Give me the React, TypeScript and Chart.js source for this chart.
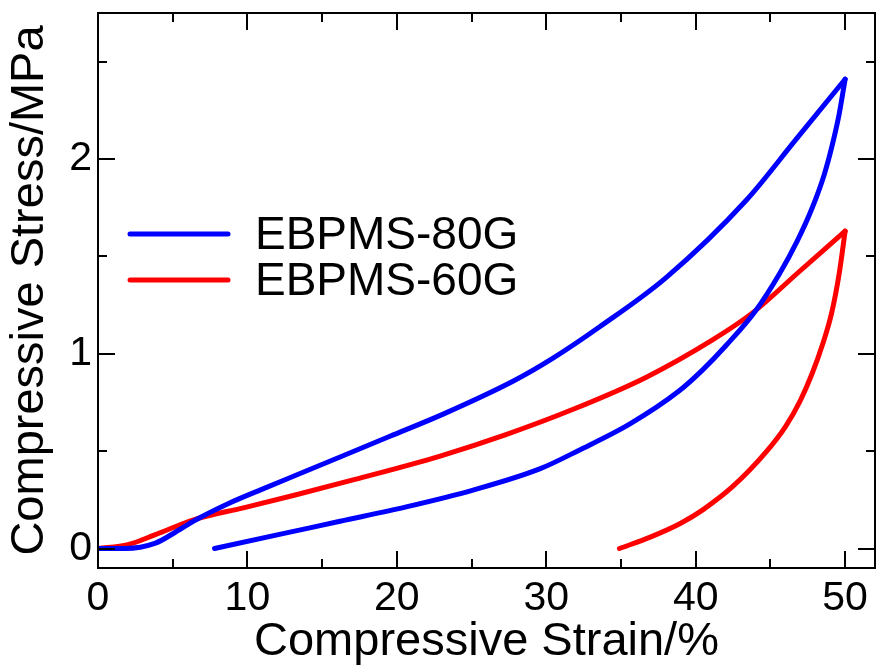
import React, { useEffect, useRef } from "react";
import { Chart, registerables } from "chart.js";

Chart.register(...registerables);

// Compressive strain (%) / stress (MPa)
const blueLoadX = [0, 1.8, 3.8, 5.2, 6.5, 8.7, 11, 13.2, 16.2, 19.5, 23.1, 27.8, 30.4, 33.6, 38.0, 43.4, 46.7, 50];
const blueLoadY = [0, 0, 0.026, 0.085, 0.145, 0.23, 0.305, 0.375, 0.47, 0.575, 0.69, 0.86, 0.975, 1.14, 1.39, 1.79, 2.10, 2.41];
const blueUnloadX = [50, 49.6, 49.1, 48.6, 47.8, 46.8, 45.6, 44.0, 42.0, 40.5, 38.9, 35.6, 32.2, 29.6, 25.1, 20.7, 16.2, 12.3, 7.8];
const blueUnloadY = [2.41, 2.23, 2.06, 1.92, 1.75, 1.58, 1.41, 1.22, 1.04, 0.92, 0.81, 0.64, 0.505, 0.41, 0.30, 0.215, 0.14, 0.075, 0];

const redLoadX = [0, 2.0, 3.8, 6.5, 9.8, 13.2, 17.2, 22.9, 27.3, 31.8, 36.7, 41.1, 43.8, 46.9, 50];
const redLoadY = [0, 0.02, 0.07, 0.15, 0.21, 0.275, 0.355, 0.475, 0.585, 0.715, 0.88, 1.07, 1.21, 1.42, 1.63];
const redUnloadX = [50, 49.6, 49.1, 48.5, 47.8, 47.0, 46.0, 44.7, 42.5, 40.5, 39.0, 37.0, 34.9];
const redUnloadY = [1.63, 1.41, 1.21, 1.05, 0.9, 0.76, 0.625, 0.495, 0.32, 0.2, 0.13, 0.06, 0];

const seriesNames = ["EBPMS-80G", "EBPMS-60G"];
const seriesColors = ["#0000ff", "#ff0000"];

const xMajorTicks = [0, 10, 20, 30, 40, 50];
const xMinorTicks = [5, 15, 25, 35, 45];
const yMajorTicks = [0, 1, 2];
const yMinorTicks = [0.5, 1.5, 2.5];

const toPts = (xs: number[], ys: number[]) => xs.map((x, i) => ({ x, y: ys[i] }));

const FONT = "'Liberation Sans', Arial, Helvetica, sans-serif";

const framePlugin = {
  id: "frameTicks",
  afterDatasetsDraw(chart: any) {
    const { ctx, chartArea, scales } = chart;
    const { left, right, top, bottom } = chartArea;
    const xs = scales.x;
    const ys = scales.y;
    ctx.save();
    ctx.strokeStyle = "#000";
    ctx.lineWidth = 2;
    ctx.lineCap = "butt";
    ctx.beginPath();
    const major = 17;
    const minor = 9;
    const vTick = (v: number, len: number) => {
      const p = Math.round(xs.getPixelForValue(v));
      ctx.moveTo(p, bottom);
      ctx.lineTo(p, bottom - len);
      ctx.moveTo(p, top);
      ctx.lineTo(p, top + len);
    };
    const hTick = (v: number, len: number) => {
      const p = Math.round(ys.getPixelForValue(v));
      ctx.moveTo(left, p);
      ctx.lineTo(left + len, p);
      ctx.moveTo(right, p);
      ctx.lineTo(right - len, p);
    };
    xMajorTicks.forEach((v) => vTick(v, major));
    xMinorTicks.forEach((v) => vTick(v, minor));
    yMajorTicks.forEach((v) => hTick(v, major));
    yMinorTicks.forEach((v) => hTick(v, minor));
    ctx.stroke();
    ctx.strokeRect(left, top, right - left, bottom - top);

    // legend
    const lx0 = 130;
    const lx1 = 228;
    const rows = [234, 280];
    ctx.lineCap = "round";
    ctx.lineWidth = 5;
    ctx.font = `46px ${FONT}`;
    ctx.textBaseline = "middle";
    ctx.textAlign = "left";
    rows.forEach((yy, i) => {
      ctx.strokeStyle = seriesColors[i];
      ctx.beginPath();
      ctx.moveTo(lx0, yy);
      ctx.lineTo(lx1, yy);
      ctx.stroke();
      ctx.fillStyle = "#000";
      ctx.fillText(seriesNames[i], 255, yy + 2);
    });
    ctx.restore();
  },
};

export default function App() {
  const ref = useRef<HTMLCanvasElement | null>(null);
  useEffect(() => {
    if (!ref.current) return;
    const lineDs = (label: string, data: any[], color: string) => ({
      label,
      data,
      borderColor: color,
      backgroundColor: color,
      borderWidth: 5,
      pointRadius: 0,
      showLine: true,
      cubicInterpolationMode: "monotone",
      borderCapStyle: "round",
      borderJoinStyle: "round",
      fill: false,
    });
    const chart = new Chart(ref.current, {
      type: "scatter",
      data: {
        datasets: [
          lineDs(seriesNames[0], toPts(blueLoadX, blueLoadY), seriesColors[0]),
          lineDs(seriesNames[0] + " unload", toPts(blueUnloadX, blueUnloadY), seriesColors[0]),
          lineDs(seriesNames[1], toPts(redLoadX, redLoadY), seriesColors[1]),
          lineDs(seriesNames[1] + " unload", toPts(redUnloadX, redUnloadY), seriesColors[1]),
        ] as any,
      },
      options: {
        responsive: false,
        animation: false,
        layout: { padding: { top: 13, right: 1, left: 0, bottom: 0 } },
        plugins: { legend: { display: false }, tooltip: { enabled: false } },
        scales: {
          x: {
            type: "linear",
            min: 0,
            max: 52,
            grid: { display: false, drawTicks: false },
            border: { display: false },
            afterBuildTicks: (s: any) => {
              s.ticks = xMajorTicks.map((v) => ({ value: v }));
            },
            afterFit: (s: any) => {
              s.height = 102;
              s.paddingLeft = 0;
              s.paddingRight = 0;
            },
            ticks: {
              color: "#000",
              padding: 6,
              maxRotation: 0,
              font: { family: FONT, size: 41 },
              callback: (v: any) => String(v),
            },
            title: {
              display: true,
              text: "Compressive Strain/%",
              color: "#000",
              padding: 0,
              font: { family: FONT, size: 47 },
            },
          },
          y: {
            type: "linear",
            min: -0.1,
            max: 2.75,
            grid: { display: false, drawTicks: false },
            border: { display: false },
            afterBuildTicks: (s: any) => {
              s.ticks = yMajorTicks.map((v) => ({ value: v }));
            },
            afterFit: (s: any) => {
              s.width = 98;
              s.paddingTop = 0;
              s.paddingBottom = 0;
            },
            ticks: {
              color: "#000",
              padding: 6,
              font: { family: FONT, size: 41 },
              callback: (v: any) => String(v),
            },
            title: {
              display: true,
              text: "Compressive Stress/MPa",
              color: "#000",
              padding: { top: 2, bottom: 0 },
              font: { family: FONT, size: 47 },
            },
          },
        },
      },
      plugins: [framePlugin],
    } as any);
    return () => chart.destroy();
  }, []);
  return (
    <div style={{ position: "absolute", left: 0, top: 0, width: 876, height: 670, background: "#fff" }}>
      <canvas ref={ref} width={876} height={670} style={{ display: "block" }} />
    </div>
  );
}
